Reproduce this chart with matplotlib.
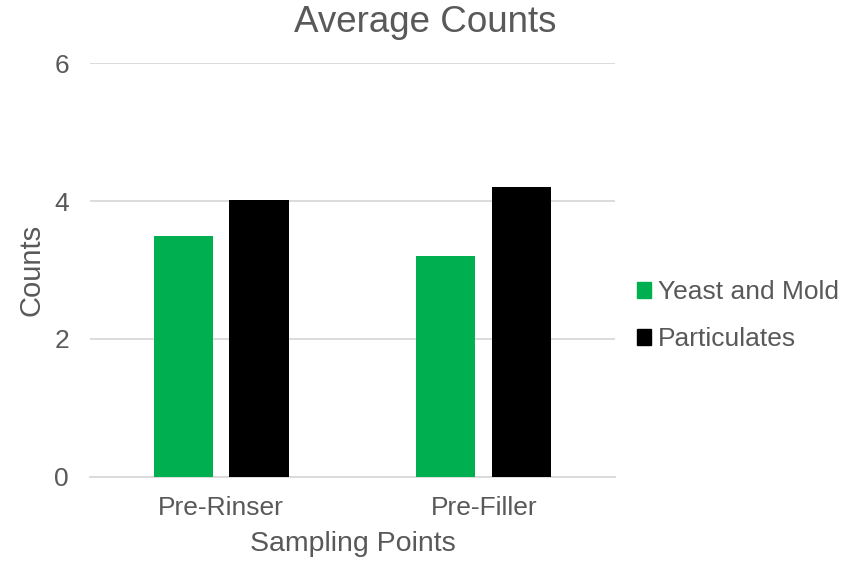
import numpy as np
import matplotlib.pyplot as plt
from matplotlib.patches import Patch

plt.rcParams['font.family'] = ['Liberation Sans', 'DejaVu Sans']

sampling_points = ["Pre-Rinser", "Pre-Filler"]
yeast_mold = [3.5, 3.2]
particulates = [4.02, 4.21]

text_col = "#595959"
green = "#00B050"

fig = plt.figure(figsize=(8.56, 5.64), dpi=100)
ax = fig.add_axes([0.105, 0.1548, 0.6135, 0.733])

x = np.arange(len(sampling_points))
w = 0.225
off = 0.144
ax.bar(x - off, yeast_mold, w, color=green, zorder=3)
ax.bar(x + off, particulates, w, color="black", zorder=3)

ax.set_xlim(-0.5, 1.5)
ax.set_ylim(0, 6)
ax.set_yticks([0, 2, 4, 6])
ax.set_xticks(x)
ax.set_xticklabels(sampling_points)
ax.yaxis.grid(True, color="#D9D9D9", linewidth=1.3, zorder=0)
for s in ["top", "right", "left"]:
    ax.spines[s].set_visible(False)
ax.spines["bottom"].set_color("#D9D9D9")
ax.spines["bottom"].set_linewidth(1.3)
ax.tick_params(axis="both", length=0, labelsize=19, colors=text_col)
ax.tick_params(axis="x", pad=14)
ax.tick_params(axis="y", pad=15)

ax.set_xlabel("Sampling Points", fontsize=20.5, color=text_col, labelpad=8)
ax.set_ylabel("Counts", fontsize=21, color=text_col, labelpad=6)

fig.text(425 / 856, 1 - 23 / 564, "Average Counts", ha="center", va="center",
         fontsize=26.5, color=text_col)

handles = [Patch(color=green, label="Yeast and Mold"),
           Patch(color="black", label="Particulates")]
fig.legend(handles=handles, loc="center left", bbox_to_anchor=(0.716, 0.44),
           frameon=False, fontsize=19, labelcolor=text_col,
           handlelength=0.55, handleheight=0.55, handletextpad=0.25,
           labelspacing=0.88)

fig.savefig("out.png", dpi=100)
